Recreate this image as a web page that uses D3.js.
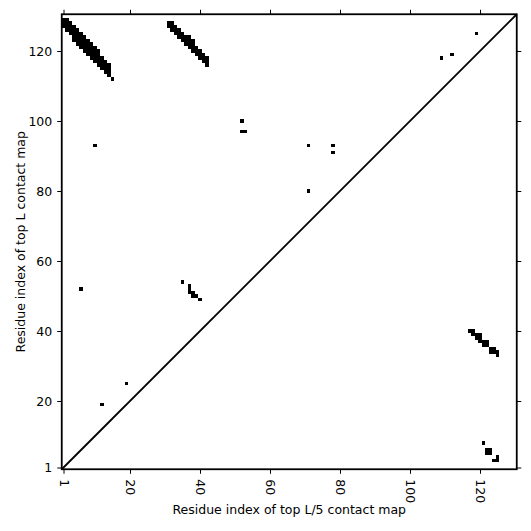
<!DOCTYPE html>
<html>
<head>
<meta charset="utf-8">
<script src="https://cdn.jsdelivr.net/npm/d3@7"></script>
<style>
  body { margin: 0; background: #fff; }
  text { font-family: "DejaVu Sans", sans-serif; }
</style>
</head>
<body>
<div id="chart"></div>
<script>
var width = 531;
var height = 531;

var L = 130;
var xTicks = [1, 20, 40, 60, 80, 100, 120];
var yTicks = [1, 20, 40, 60, 80, 100, 120];
var xTitle = "Residue index of top L/5 contact map";
var yTitle = "Residue index of top L contact map";

// top L contacts (upper triangle), runs as [x, yFrom, yTo]
var sheetA = [
    [1, 127, 129], [2, 126, 129], [3, 125, 128], [4, 123, 127], [5, 122, 126],
    [6, 121, 125], [7, 120, 124], [8, 119, 123], [9, 118, 122], [10, 117, 121],
    [11, 116, 120], [12, 115, 118], [13, 114, 117], [14, 113, 116], [15, 112, 112]
];
var sheetB = [
    [31, 127, 128], [32, 126, 128], [33, 125, 127], [34, 124, 126], [35, 123, 125],
    [36, 122, 124], [37, 121, 124], [38, 120, 123], [39, 119, 121], [40, 118, 120],
    [41, 117, 119], [42, 116, 118]
];
var topLSingles = [
    [10, 93], [6, 52], [19, 25], [12, 19],
    [35, 54], [37, 53], [37, 52], [37, 51], [38, 51], [38, 50], [39, 50], [40, 49],
    [52, 100], [52, 97], [53, 97], [71, 93], [78, 93], [78, 91], [71, 80],
    [109, 118], [112, 119], [119, 125]
];

// top L/5 contacts (lower triangle)
var topL5 = [
    [117, 40], [118, 40], [118, 39], [119, 39], [120, 39], [119, 38], [120, 38],
    [120, 37], [121, 37], [122, 37], [121, 36], [122, 36], [123, 35], [124, 35],
    [123, 34], [124, 34], [125, 34], [125, 33],
    [121, 8], [122, 5], [123, 5], [122, 6], [123, 6], [125, 4], [124, 3], [125, 3]
];

var cells = [];
sheetA.concat(sheetB).forEach(function(r){
    for(var k = r[1]; k <= r[2]; k++){
        cells.push([r[0], k]);
    }
});
cells = cells.concat(topLSingles, topL5);

var plotLeft = 61.75, plotTop = 14.25, plotSize = 455;

var svg = d3.select("#chart").append("svg")
    .attr("width", width)
    .attr("height", height);

var x = d3.scaleLinear().domain([0.5, L + 0.5]).range([plotLeft, plotLeft + plotSize]);
var y = d3.scaleLinear().domain([0.5, L + 0.5]).range([plotTop + plotSize, plotTop]);

var cw = x(1) - x(0);

svg.append("g").selectAll("rect")
    .data(cells)
    .enter()
    .append("rect")
        .attr("x", function(d){ return x(d[0] - 0.5); })
        .attr("y", function(d){ return y(d[1] + 0.5); })
        .attr("width", cw)
        .attr("height", cw)
        .attr("fill", "#000")
        .attr("shape-rendering", "crispEdges");

svg.append("line")
    .attr("x1", x(0.5)).attr("y1", y(0.5))
    .attr("x2", x(L + 0.5)).attr("y2", y(L + 0.5))
    .attr("stroke", "#000")
    .attr("stroke-width", 1.8);

function styleAxis(g){
    g.select(".domain").remove();
    g.selectAll(".tick line").attr("stroke", "#000").attr("stroke-width", 1);
    g.selectAll("text").attr("fill", "#000").style("font-size", "12.5px");
}

var xAxis = svg.append("g")
    .attr("transform", "translate(0," + (plotTop + plotSize) + ")")
    .call(d3.axisBottom(x).tickValues(xTicks).tickSize(4.5).tickFormat(d3.format("d")))
    .call(styleAxis);
xAxis.selectAll("text")
    .attr("y", 0)
    .attr("x", 10)
    .attr("dy", "0.35em")
    .attr("transform", "rotate(90)")
    .style("text-anchor", "start");

svg.append("g")
    .attr("transform", "translate(" + plotLeft + ",0)")
    .call(d3.axisLeft(y).tickValues(yTicks).tickSize(4.5).tickPadding(5).tickFormat(d3.format("d")))
    .call(styleAxis);

svg.append("g")
    .attr("transform", "translate(0," + plotTop + ")")
    .call(d3.axisTop(x).tickValues(xTicks).tickSize(4.5).tickFormat(""))
    .call(styleAxis);

svg.append("g")
    .attr("transform", "translate(" + (plotLeft + plotSize) + ",0)")
    .call(d3.axisRight(y).tickValues(yTicks).tickSize(4.5).tickFormat(""))
    .call(styleAxis);

svg.append("rect")
    .attr("x", plotLeft).attr("y", plotTop)
    .attr("width", plotSize).attr("height", plotSize)
    .attr("fill", "none")
    .attr("stroke", "#000")
    .attr("stroke-width", 1.8);

svg.append("text")
    .attr("x", plotLeft + plotSize / 2)
    .attr("y", 514)
    .attr("text-anchor", "middle")
    .style("font-size", "12.5px")
    .text(xTitle);

svg.append("text")
    .attr("transform", "translate(25," + (plotTop + plotSize / 2) + ") rotate(-90)")
    .attr("text-anchor", "middle")
    .style("font-size", "12.5px")
    .text(yTitle);
</script>
</body>
</html>
